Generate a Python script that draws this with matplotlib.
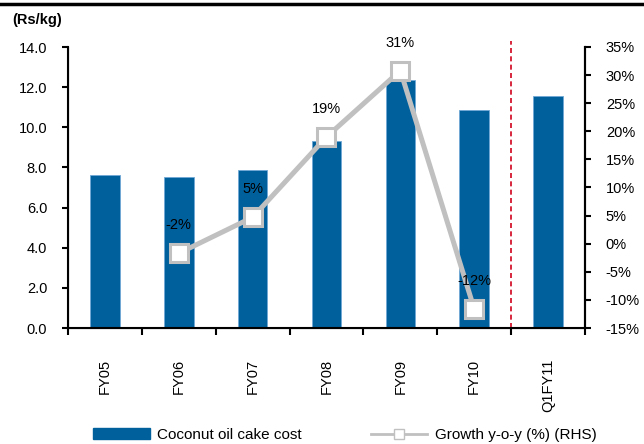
import matplotlib
matplotlib.use("Agg")
import matplotlib.pyplot as plt
import numpy as np
from matplotlib.lines import Line2D
from matplotlib.patches import Patch

plt.rcParams['font.family'] = ['Liberation Sans', 'DejaVu Sans']

# data
categories = ['FY05', 'FY06', 'FY07', 'FY08', 'FY09', 'FY10', 'Q1FY11']
cost = [7.62, 7.52, 7.87, 9.32, 12.36, 10.86, 11.56]
growth_cats = ['FY06', 'FY07', 'FY08', 'FY09', 'FY10']
growth = [-1.7, 4.7, 19.0, 30.8, -11.6]
growth_labels = ['-2%', '5%', '19%', '31%', '-12%']

bar_color = '#00609c'
line_color = '#c0c0c0'
fs = 10.5

fig = plt.figure(figsize=(6.44, 4.44), dpi=100)
ax = fig.add_axes([68/644, 1-328/444, (585-68)/644, (328-47)/444])
x = np.arange(len(categories))
ax.bar(x, cost, width=0.4, color=bar_color, edgecolor='#6fa8d6', linewidth=0.6, zorder=2)
ax.set_xlim(-0.5, len(categories)-0.5)
ax.set_ylim(0, 14)
ax.set_yticks(np.arange(0, 14.1, 2))
ax.set_yticklabels([f'{v:.1f}' for v in np.arange(0, 14.1, 2)])
ax.set_xticks(x)
ax.set_xticklabels(categories, rotation=90)
ax.set_xticks(np.arange(-0.5, len(categories)), minor=True)
ax.tick_params(axis='x', which='major', length=0, pad=22, labelsize=fs)
ax.tick_params(axis='x', which='minor', length=5, width=1.5, direction='out')
ax.tick_params(axis='y', length=4, width=1.5, labelsize=fs, pad=11)
ax.spines['top'].set_visible(False)
for s in ['left', 'bottom', 'right']:
    ax.spines[s].set_linewidth(1.5)
ax.axvline(5.5, color='#d0021b', linestyle=(0, (3, 2)), linewidth=1.2, ymax=1.02, clip_on=False, zorder=1)

ax2 = ax.twinx()
ax2.set_ylim(-15, 35)
ax2.set_yticks(np.arange(-15, 36, 5))
ax2.set_yticklabels([f'{v}%' for v in range(-15, 36, 5)])
ax2.tick_params(axis='y', length=4, width=1.5, labelsize=fs, pad=11)
ax2.spines['top'].set_visible(False)
ax2.spines['right'].set_linewidth(1.5)
gx = [categories.index(c) for c in growth_cats]
ax2.plot(gx, growth, color=line_color, linewidth=3.6, marker='s', markersize=13,
         markerfacecolor='white', markeredgecolor=line_color, markeredgewidth=2.2, zorder=3)
for xi, yi, lab in zip(gx, growth, growth_labels):
    ax2.annotate(lab, (xi, yi), xytext=(0, 15), textcoords='offset points',
                 ha='center', va='bottom', fontsize=fs)

fig.text(12/644, 1-20/444, '(Rs/kg)', fontsize=fs, fontweight='bold', va='center')
fig.add_artist(Line2D([0, 1], [1-4/444, 1-4/444], color='black', linewidth=2.5))

handles = [Patch(facecolor=bar_color, edgecolor=bar_color),
           Line2D([], [], color=line_color, linewidth=2, marker='s', markersize=7,
                  markerfacecolor='white', markeredgecolor=line_color)]
fig.legend(handles, ['Coconut oil cake cost', 'Growth y-o-y (%) (RHS)'], ncol=2,
           loc='center', bbox_to_anchor=(345/644, 1-435/444), frameon=False, fontsize=11,
           handlelength=3.7, handletextpad=0.5, columnspacing=4.5, borderpad=0)

fig.savefig('out.png', dpi=100)
